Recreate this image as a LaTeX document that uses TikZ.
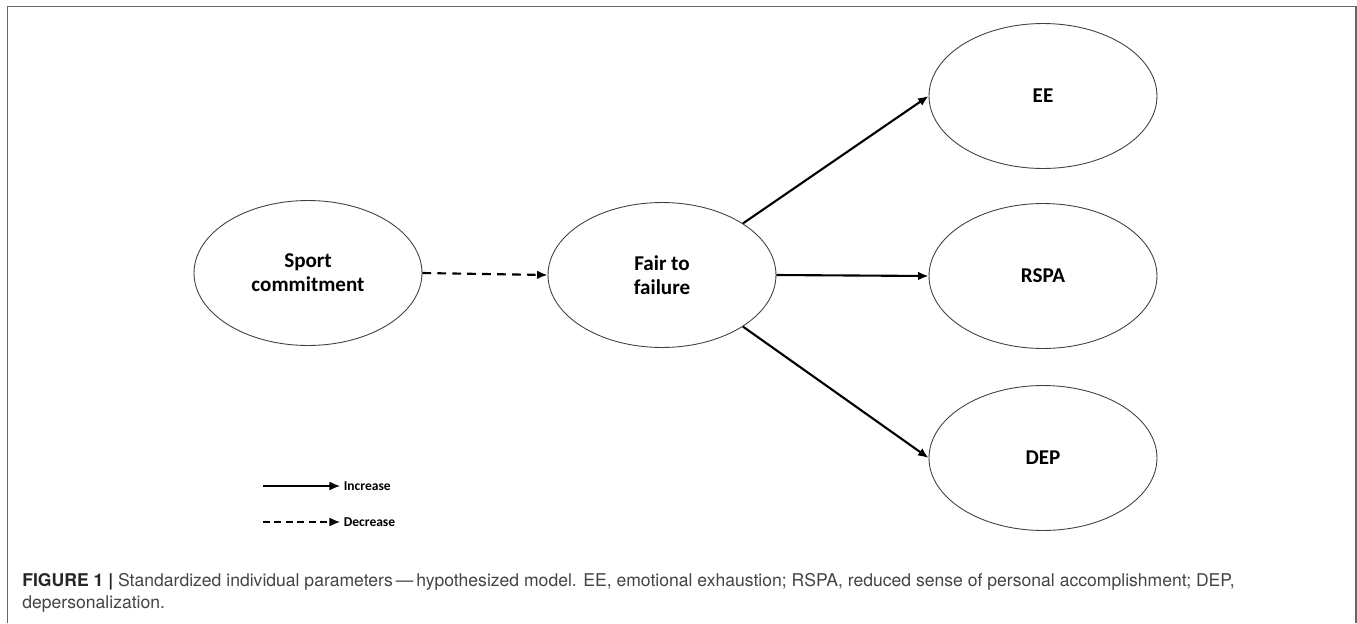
\documentclass[tikz,border=0pt]{standalone}
\usepackage{fontspec}
\setmainfont{TeX Gyre Heros}
\newfontfamily\calfont{Carlito}
\usetikzlibrary{positioning,arrows.meta,shapes.geometric}
\definecolor{framegray}{HTML}{666666}
\definecolor{capgray}{HTML}{444444}

\begin{document}
\begin{tikzpicture}[x=0.02cm,y=-0.02cm,>={Latex[length=6pt,width=5pt]},
  latent/.style={ellipse,draw=black!75,line width=0.5pt,minimum width=4.56cm,minimum height=2.9cm,
    inner sep=0pt,align=center,font=\calfont\bfseries\fontsize{12}{13.5}\selectfont},
  path/.style={->,line width=1.2pt},
  legtext/.style={right,inner sep=2pt,font=\calfont\bfseries\fontsize{7.7}{9}\selectfont}]
  \useasboundingbox (0,0) rectangle (1357,623);
  \draw[framegray,line width=0.85pt] (7.5,623) -- (7.5,6.5) -- (1356,6.5) -- (1356,623);
  \node[latent] (sc) at (308,273) {Sport\\commitment};
  \node[latent] (ff) at (662,275) {Fair to\\failure};
  \node[latent] (ee) at (1043,96) {EE};
  \node[latent] (rspa) at (1043,276) {RSPA};
  \node[latent] (dep) at (1043,458) {DEP};
  \draw[path,dashed,dash pattern=on 5pt off 3.5pt] (sc.east) -- (ff.west);
  \draw[path] (ff.north east) -- (ee.west);
  \draw[path] (ff.east) -- (rspa.west);
  \draw[path] (ff.south east) -- (dep.west);
  \coordinate (inca) at (263,486); \coordinate (deca) at (263,522);
  \node[legtext] (inc) at (340,486) {Increase};
  \node[legtext] (dec) at (340,522) {Decrease};
  \draw[->,line width=0.7pt] (inca) -- (inc.west);
  \draw[->,line width=0.7pt,dash pattern=on 4pt off 2.5pt] (deca) -- (dec.west);
  \node[anchor=north west,inner sep=0pt,align=left,text=capgray,font=\fontsize{10}{12.5}\selectfont] (cap) at (22,573)
    {\textcolor{black!85}{\bfseries FIGURE 1 |} Standardized individual parameters\,---\,hypothesized model. EE, emotional exhaustion; RSPA, reduced sense of personal accomplishment; DEP,\\depersonalization.};
\end{tikzpicture}
\end{document}
